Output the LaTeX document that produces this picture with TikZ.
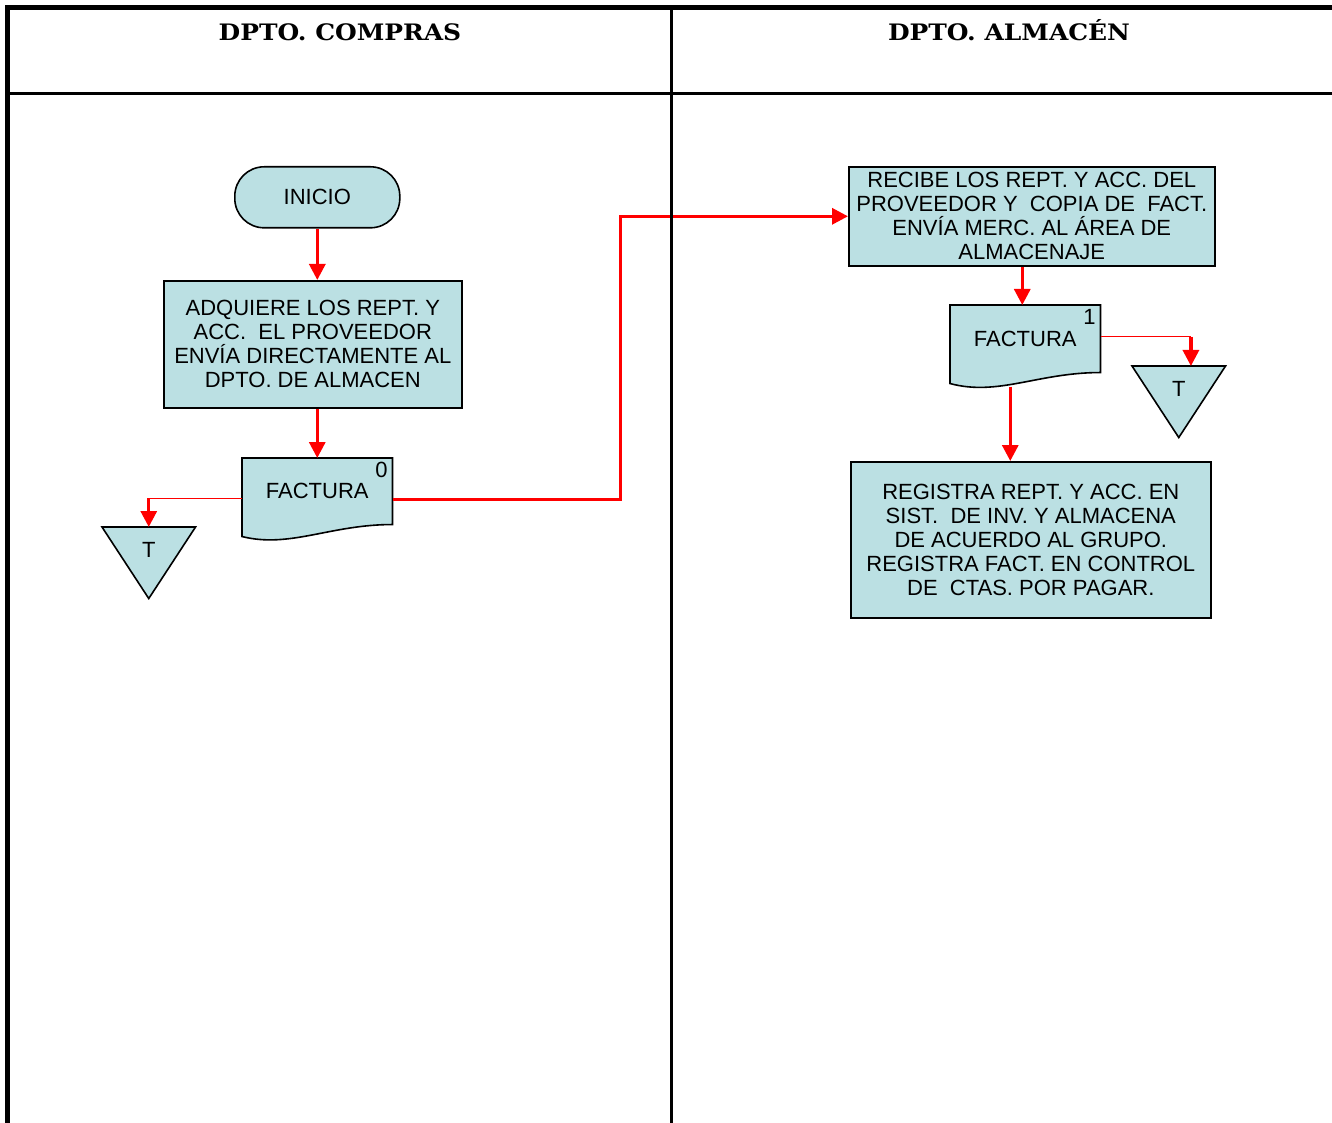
\documentclass[tikz,border=0pt]{standalone}
\usepackage{fontspec}
\setmainfont{Liberation Sans}
\newfontfamily\headfont[FakeStretch=1.1]{DejaVu Serif}
\usetikzlibrary{arrows.meta,calc,backgrounds}
\definecolor{boxfill}{RGB}{187,224,227}
\definecolor{flowred}{RGB}{255,0,0}
\begin{document}
\begin{tikzpicture}[x=0.75pt,y=-0.75pt,
  every node/.style={font=\fontsize{16.5pt}{18pt}\selectfont, text=black},
  procbox/.style={draw=black, line width=1.2pt, fill=boxfill, align=center,
    inner sep=0pt, anchor=north west},
  termbox/.style={procbox, rounded corners=22pt},
  docanchor/.style={draw=none, inner sep=0pt, anchor=north west,
    minimum width=112.5pt},
  trianchor/.style={draw=none, inner sep=0pt, anchor=north west,
    minimum width=69.75pt, minimum height=53.25pt},
  outline/.style={draw=black, line width=1.2pt, fill=boxfill},
  headtxt/.style={anchor=base, font=\headfont\bfseries\fontsize{17pt}{18pt}\selectfont},
  flow/.style={draw=flowred, line width=2.4pt,
    -{Triangle[length=12pt,width=12pt]}},
  thinflow/.style={draw=flowred, line width=1.1pt},
]
\useasboundingbox (0,0) rectangle (1332,1123);

% ---------- lane headers ----------
\node[headtxt] (h1) at (340,41) {DPTO. COMPRAS};
\node[headtxt] (h2) at (1009,41) {DPTO. ALMACÉN};

% ---------- DPTO. COMPRAS ----------
\node[termbox, minimum width=123.75pt, minimum height=45.75pt] (inicio) at (234,166) {INICIO};
\node[procbox, minimum width=223.5pt, minimum height=95.25pt] (b1) at (163,280)
  {ADQUIERE LOS REPT. Y\\ACC.\ \ EL PROVEEDOR\\ENVÍA DIRECTAMENTE AL\\DPTO. DE ALMACEN};
\node[docanchor, minimum height=49.5pt] (f0) at (242,458) {FACTURA};
\node[anchor=center] (n0) at ($(f0.north east)+(-11,12)$) {0};
\node[trianchor] (t0) at (102,527) {};
\node (t0l) at ($(t0.north)+(0,23)$) {T};

% ---------- DPTO. ALMACÉN ----------
\node[procbox, minimum width=274.5pt, minimum height=74.25pt] (r) at (848,166)
  {RECIBE LOS REPT. Y ACC. DEL\\PROVEEDOR Y \ COPIA DE \ FACT.\\ENVÍA MERC. AL ÁREA DE\\ALMACENAJE};
\node[docanchor, minimum height=50.25pt] (f1) at (950,305) {FACTURA};
\node[anchor=center] (n1) at ($(f1.north east)+(-11,12)$) {1};
\node[trianchor] (t1) at (1132,366) {};
\node (t1l) at ($(t1.north)+(0,23)$) {T};
\node[procbox, minimum width=270pt, minimum height=117pt] (g) at (850,461)
  {REGISTRA REPT. Y ACC. EN\\SIST.\ \ DE INV. Y ALMACENA\\DE ACUERDO AL GRUPO.\\REGISTRA FACT. EN CONTROL\\DE \ CTAS. POR PAGAR.};

% ---------- document and off-page shapes ----------
\begin{scope}[on background layer]
  \foreach \f/\d in {f0/12,f1/11}{
    \path[outline] (\f.south east) -- (\f.north east) -- (\f.north west)
      -- ($(\f.south west)+(0,\d)$)
      .. controls ($(\f.south west)+(48,24)$) and ($(\f.south west)+(88,0)$)
      .. (\f.south east) -- cycle;
  }
  \foreach \t in {t0,t1}{
    \path[outline] (\t.north west) -- (\t.north east) -- (\t.south) -- cycle;
  }
\end{scope}

% ---------- connectors ----------
\draw[flow] (inicio.south) -- (inicio.south |- b1.north);
\draw[flow] (f0.north |- b1.south) -- (f0.north);
\coordinate (f0w) at ($(f0.west)+(0,7)$);
\draw[thinflow] (f0w) -- (f0w -| t0.north);
\draw[flow] (f0w -| t0.north) -- (t0.north);
\coordinate (f0e) at ($(f0.east)+(0,8)$);
\draw[flow] (f0e) -- ++(228,0) |- (r.west);

\coordinate (rb) at ($(f1.north)+(-3,0)$);
\draw[flow] (rb |- r.south) -- (rb);
\coordinate (f1e) at ($(f1.east)+(0,-2)$);
\coordinate (t1a) at ($(t1.north west)!0.63!(t1.north east)$);
\draw[thinflow] (f1e) -- (f1e -| t1a);
\draw[flow] (f1e -| t1a) -- (t1a);
\coordinate (f1b) at ($(f1.south)+(-15,14)$);
\draw[flow] (f1b) -- (f1b |- g.north);

% ---------- lane grid ----------
\draw[line width=3.75pt] (7.5,1123) -- (7.5,7.5) -- (1332,7.5);
\draw[line width=2.2pt] (7.5,93.5) -- (1332,93.5);
\draw[line width=2.2pt] (671.5,7.5) -- (671.5,1123);
\end{tikzpicture}
\end{document}
